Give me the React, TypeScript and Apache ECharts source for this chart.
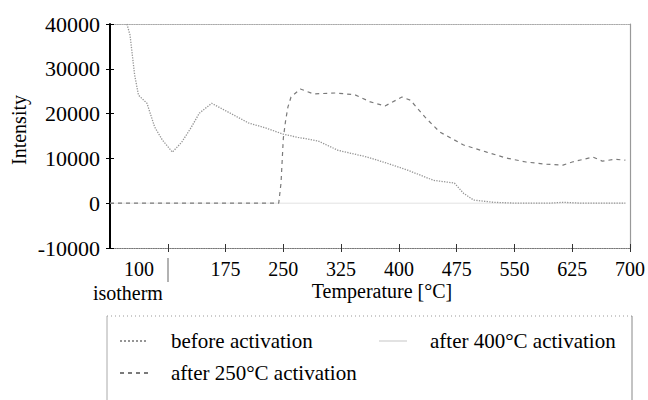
import { useEffect, useRef } from "react";
import * as echarts from "echarts";

// x positions: 25–100 is the isotherm hold (shown as "100 / isotherm"), then the temperature ramp in °C
const xTicks = [100, 175, 250, 325, 400, 475, 550, 625, 700];
const xLabelValues = [62.5, 175, 250, 325, 400, 475, 550, 625, 700];
const ISOTHERM_LABEL_POS = 62.5;

const beforeX = [47, 51, 57, 62, 73, 83, 93, 106, 118, 130, 141, 157, 205, 227, 250, 269, 295, 321, 359, 385, 411, 445, 472, 484, 497, 523, 552, 595, 613, 638, 694];
const beforeY = [40000, 37500, 28600, 24100, 22300, 17000, 14100, 11400, 13600, 16800, 20100, 22300, 17900, 16800, 15400, 14700, 13900, 11800, 10300, 8900, 7400, 5100, 4500, 2200, 700, 200, 0, 0, 200, 0, 0];

const after250X = [25, 244, 247, 250, 253, 256, 260, 272, 289, 318, 343, 363, 382, 404, 415, 434, 453, 484, 514, 539, 565, 591, 613, 625, 652, 664, 681, 694];
const after250Y = [0, 0, 4500, 14500, 18500, 21500, 23700, 25500, 24400, 24600, 24200, 22600, 21700, 23700, 23000, 19200, 15900, 13000, 11400, 10100, 9200, 8700, 8500, 9200, 10300, 9400, 9800, 9600];

const after400X = [25, 694];
const after400Y = [0, 0];

const FONT = "Liberation Serif";

const pairs = (xs: number[], ys: number[]) => xs.map((x, i) => [x, ys[i]]);

export default function App() {
  const ref = useRef<HTMLDivElement>(null);

  useEffect(() => {
    if (!ref.current) return;
    const chart = echarts.init(ref.current, null, { renderer: "svg" });

    const yScale = { type: "value" as const, min: -10000, max: 40000, interval: 10000 };
    const xScale = { type: "value" as const, min: 25, max: 700 };
    const hidden = { show: false };
    const noLine = { show: false, onZero: false };

    const legendText = {
      fontSize: 21,
      fontFamily: FONT,
      color: "#000",
      lineHeight: 22,
      padding: [0, 0, 0, 18],
    };

    chart.setOption({
      animation: false,
      backgroundColor: "#ffffff",
      textStyle: { fontFamily: FONT, color: "#000" },
      grid: { left: 110, right: 12, top: 24, bottom: 152, containLabel: false },
      xAxis: [
        {
          ...xScale,
          position: "bottom",
          splitLine: hidden,
          axisLine: { show: true, onZero: false, lineStyle: { color: "#777", type: "dotted", width: 1.2 } },
          axisTick: { show: true, customValues: xTicks, length: 4, lineStyle: { color: "#333" } },
          axisLabel: {
            customValues: xLabelValues,
            margin: 9,
            fontSize: 20,
            fontFamily: FONT,
            color: "#000",
            lineHeight: 24,
            formatter: (v: number) =>
              v === ISOTHERM_LABEL_POS ? "{n|100}\n{iso|isotherm}" : String(v),
            rich: {
              n: { fontSize: 20, fontFamily: FONT, color: "#000", lineHeight: 24 },
              iso: { fontSize: 20, fontFamily: FONT, color: "#000", lineHeight: 24, padding: [0, 22, 0, 0] },
            },
          },
          name: "Temperature [°C]",
          nameLocation: "middle",
          nameGap: 33,
          nameMoveOverlap: false,
          nameTextStyle: { fontSize: 20, fontFamily: FONT, color: "#000", padding: [0, 0, 0, 24] },
        },
        {
          ...xScale,
          position: "bottom",
          splitLine: hidden,
          axisLine: noLine,
          axisLabel: hidden,
          axisTick: { show: true, inside: true, customValues: xTicks, length: 4, lineStyle: { color: "#333" } },
        },
        {
          ...xScale,
          position: "bottom",
          offset: 10,
          splitLine: hidden,
          axisLine: noLine,
          axisLabel: hidden,
          axisTick: { show: true, customValues: [100], length: 24, lineStyle: { color: "#999", width: 1.5 } },
        },
        {
          ...xScale,
          position: "top",
          splitLine: hidden,
          axisLabel: hidden,
          axisTick: hidden,
          axisLine: { show: true, onZero: false, lineStyle: { color: "#aaa", type: "dotted", width: 1.2 } },
        },
      ],
      yAxis: [
        {
          ...yScale,
          position: "left",
          splitLine: hidden,
          axisLine: { show: true, onZero: false, lineStyle: { color: "#000", width: 2 } },
          axisTick: { show: true, length: 4, lineStyle: { color: "#000" } },
          axisLabel: {
            margin: 10,
            fontSize: 22,
            fontFamily: FONT,
            color: "#000",
            formatter: (v: number) => String(v),
          },
          name: "Intensity",
          nameLocation: "middle",
          nameGap: 81,
          nameMoveOverlap: false,
          nameTextStyle: { fontSize: 20, fontFamily: FONT, color: "#000", padding: [0, 0, 0, 12] },
        },
        {
          ...yScale,
          position: "left",
          splitLine: hidden,
          axisLine: noLine,
          axisLabel: hidden,
          axisTick: { show: true, inside: true, length: 4, lineStyle: { color: "#000" } },
        },
        {
          ...yScale,
          position: "right",
          splitLine: hidden,
          axisLabel: hidden,
          axisTick: hidden,
          axisLine: { show: true, onZero: false, lineStyle: { color: "#999", width: 1.2 } },
        },
      ],
      legend: [
        {
          left: 114,
          top: 325,
          orient: "vertical",
          itemWidth: 28,
          itemHeight: 14,
          itemGap: 10,
          itemStyle: { opacity: 0 },
          data: ["before activation", "after 250°C activation"],
          textStyle: legendText,
        },
        {
          left: 373,
          top: 325,
          orient: "vertical",
          itemWidth: 28,
          itemHeight: 14,
          itemStyle: { opacity: 0 },
          data: ["after 400°C activation"],
          textStyle: legendText,
        },
      ],
      graphic: [
        {
          type: "line",
          shape: { x1: 107, y1: 316, x2: 632, y2: 316 },
          style: { stroke: "#999", lineWidth: 1, lineDash: [1, 3] },
        },
        {
          type: "line",
          shape: { x1: 107, y1: 316, x2: 107, y2: 400 },
          style: { stroke: "#aaa", lineWidth: 1 },
        },
        {
          type: "line",
          shape: { x1: 632, y1: 316, x2: 632, y2: 400 },
          style: { stroke: "#888", lineWidth: 1 },
        },
      ],
      series: [
        {
          name: "after 400°C activation",
          type: "line",
          symbol: "none",
          data: pairs(after400X, after400Y),
          lineStyle: { color: "#e2e2e2", width: 1, type: "solid" },
          itemStyle: { color: "#e2e2e2" },
        },
        {
          name: "before activation",
          type: "line",
          symbol: "none",
          data: pairs(beforeX, beforeY),
          lineStyle: { color: "#959595", width: 1.3, type: "dotted" },
          itemStyle: { color: "#959595" },
        },
        {
          name: "after 250°C activation",
          type: "line",
          symbol: "none",
          data: pairs(after250X, after250Y),
          lineStyle: { color: "#7a7a7a", width: 1.2, type: [4, 4] },
          itemStyle: { color: "#7a7a7a" },
        },
      ],
    });

    return () => chart.dispose();
  }, []);

  return (
    <div
      ref={ref}
      style={{ position: "fixed", left: 0, top: 0, width: 648, height: 400, background: "#fff" }}
    />
  );
}
